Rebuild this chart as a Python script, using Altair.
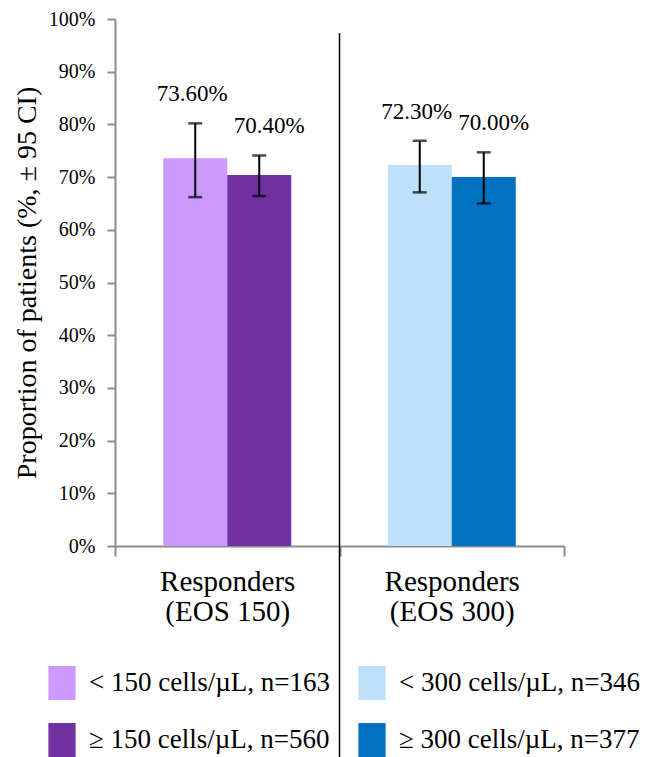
import altair as alt
import pandas as pd

groups = ["Responders (EOS 150)", "Responders (EOS 150)", "Responders (EOS 300)", "Responders (EOS 300)"]
levels = ["low", "high", "low", "high"]
series = ["< 150 cells/µL, n=163", "≥ 150 cells/µL, n=560",
          "< 300 cells/µL, n=346", "≥ 300 cells/µL, n=377"]
values = [73.6, 70.4, 72.3, 70.0]
ci_low = [66.2, 66.4, 67.1, 65.0]
ci_high = [80.2, 74.1, 76.9, 74.7]
colors = ["#CC99FF", "#7030A0", "#BFE0FA", "#0070C0"]
y_ticks = list(range(0, 101, 10))
y_title = "Proportion of patients (%, ± 95 CI)"

df = pd.DataFrame({
    "group": groups, "level": levels, "series": series,
    "value": values, "lo": ci_low, "hi": ci_high,
})

FONT = "Liberation Serif"
GRAY = "#8c8c8c"

x_enc = alt.X(
    "group:N",
    sort=[groups[0], groups[2]],
    scale=alt.Scale(paddingInner=0, paddingOuter=0),
    axis=alt.Axis(
        title=None, labelAngle=0, tickBand="extent", tickSize=10,
        tickColor=GRAY, tickWidth=2, domainColor=GRAY, domainWidth=2,
        labelFont=FONT, labelFontSize=29, labelColor="black",
        labelLineHeight=30, labelPadding=11, labelBaseline="top",
        labelExpr="[slice(datum.label, 0, 10), slice(datum.label, 11)]",
    ),
)
xo_enc = alt.XOffset(
    "level:N", sort=["low", "high"],
    scale=alt.Scale(paddingInner=0, paddingOuter=0.754),
)
y_scale = alt.Scale(domain=[0, 100])

base = alt.Chart(df).encode(x=x_enc, xOffset=xo_enc)

bars = base.mark_bar().encode(
    y=alt.Y(
        "value:Q", scale=y_scale,
        axis=alt.Axis(
            values=y_ticks, labelExpr="datum.value + '%'", grid=False,
            title=y_title, titleFont=FONT, titleFontSize=28,
            titleFontWeight="normal", titleColor="black", titlePadding=7,
            labelFont=FONT, labelFontSize=20, labelColor="black",
            labelPadding=12, tickSize=8, tickColor=GRAY, tickWidth=2,
            domainColor=GRAY, domainWidth=2,
        ),
    ),
    color=alt.Color(
        "series:N",
        scale=alt.Scale(domain=series, range=colors),
        legend=alt.Legend(
            orient="none", legendX=-70, legendY=647, columns=2, title=None,
            symbolType="M-0.8,-1H0.8V1H-0.8Z", symbolSize=1156,
            symbolStrokeWidth=0, symbolOpacity=1,
            labelFont=FONT, labelFontSize=27, labelColor="black",
            labelLimit=0, columnPadding=25, rowPadding=23, labelOffset=10,
        ),
    ),
)

err = base.mark_rule(color="black", strokeWidth=2).encode(
    y=alt.Y("lo:Q", scale=y_scale), y2="hi:Q"
)
cap_lo = base.mark_tick(color="black", size=14, thickness=2.5, orient="horizontal").encode(
    y=alt.Y("lo:Q", scale=y_scale)
)
cap_hi = base.mark_tick(color="black", size=14, thickness=2.5, orient="horizontal").encode(
    y=alt.Y("hi:Q", scale=y_scale)
)


def value_labels(level, shift):
    return base.mark_text(
        font=FONT, fontSize=23, dy=-29, dx=shift, baseline="middle", color="black"
    ).encode(
        y=alt.Y("hi:Q", scale=y_scale),
        text="label:N",
    ).transform_filter(
        alt.datum.level == level
    ).transform_calculate(label="format(datum.value, '.2f') + '%'")


labels_low = value_labels("low", -3)
labels_high = value_labels("high", 10)

divider = alt.Chart(pd.DataFrame({"group": [groups[2]]})).mark_rule(
    color="black", strokeWidth=1.5
).encode(
    x=alt.X("group:N", bandPosition=0, sort=[groups[0], groups[2]]),
    y=alt.value(14), y2=alt.value(760),
)

chart = alt.layer(bars, err, cap_lo, cap_hi, labels_low, labels_high, divider).properties(
    width=449, height=527,
    padding={"left": 5, "top": 1, "right": 5, "bottom": 0},
).configure(font=FONT).configure_view(stroke=None)

chart.save("out.html", embed_options={"renderer": "svg", "actions": False})
